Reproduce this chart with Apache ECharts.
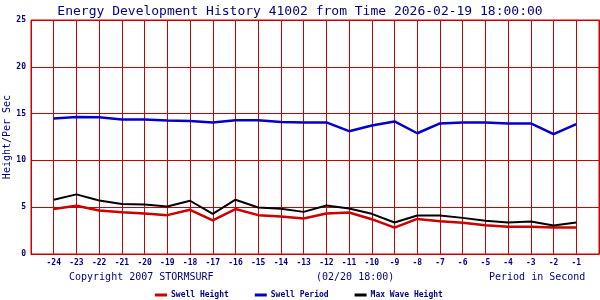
<!DOCTYPE html>
<html><head><meta charset="utf-8">
<script src="https://cdn.jsdelivr.net/npm/echarts@6/dist/echarts.min.js"></script>
<style>html,body{margin:0;padding:0;background:#fff}#c{width:600px;height:300px}</style>
</head><body><div id="c"></div>
<script>
const periods = [-24,-23,-22,-21,-20,-19,-18,-17,-16,-15,-14,-13,-12,-11,-10,-9,-8,-7,-6,-5,-4,-3,-2,-1];
const swellHeight = [4.8,5.15,4.65,4.47,4.33,4.15,4.72,3.6,4.8,4.15,4.0,3.8,4.33,4.43,3.72,2.82,3.75,3.5,3.33,3.08,2.9,2.9,2.82,2.82];
const swellPeriod = [14.48,14.63,14.6,14.38,14.38,14.27,14.2,14.06,14.3,14.3,14.09,14.06,14.06,13.12,13.73,14.16,12.9,13.95,14.06,14.06,13.95,13.95,12.8,13.87];
const maxWaveHeight = [5.8,6.37,5.72,5.33,5.3,5.08,5.69,4.29,5.8,4.97,4.83,4.5,5.19,4.87,4.29,3.36,4.11,4.11,3.86,3.54,3.36,3.47,3.04,3.36];
const yTicks = [0,5,10,15,20,25];
const titleText = 'Energy Development History 41002 from Time 2026-02-19 18:00:00';

const NAVY = '#000080', GRID = '#cc0000', MONO = 'DejaVu Sans Mono';
const pairs = a => periods.map((p,i)=>[p,a[i]]);
const chart = echarts.init(document.getElementById('c'), null, {renderer:'canvas'});
chart.setOption({
  animation:false,
  backgroundColor:'#fff',
  title:{text:titleText,left:'center',top:0,textStyle:{fontFamily:MONO,fontSize:13,fontWeight:'normal',color:NAVY}},
  grid:{left:31,right:1,top:20,bottom:46,containLabel:false,outerBoundsMode:'none',show:true,borderColor:GRID,borderWidth:1},
  xAxis:{type:'value',min:-25,max:0,interval:1,
    axisLine:{show:true,lineStyle:{color:GRID}},axisTick:{show:false},
    splitLine:{show:true,lineStyle:{color:GRID,width:1}},
    axisLabel:{margin:5,fontFamily:MONO,fontSize:8,fontWeight:'bold',color:NAVY,
      formatter:v=>(v<=-25||v>=0)?'':String(v)}},
  yAxis:{type:'value',min:yTicks[0],max:yTicks[yTicks.length-1],interval:5,
    name:'Height/Per Sec',nameLocation:'middle',nameGap:19,nameMoveOverlap:false,
    nameTextStyle:{fontFamily:MONO,fontSize:10,color:NAVY},
    axisLine:{show:true,lineStyle:{color:GRID}},axisTick:{show:false},
    splitLine:{show:true,lineStyle:{color:GRID,width:1,type:'solid'}},
    axisLabel:{margin:5,fontFamily:MONO,fontSize:8,fontWeight:'bold',color:NAVY}},
  legend:{left:155,top:291,padding:0,itemWidth:12,itemHeight:3,itemGap:26,icon:'rect',
    textStyle:{fontFamily:MONO,fontSize:8,fontWeight:'bold',color:NAVY,padding:[0,0,0,-1]},
    data:['Swell Height','Swell Period','Max Wave Height']},
  graphic:[
    {type:'text',left:69,top:272,style:{text:'Copyright 2007 STORMSURF',font:'10px "DejaVu Sans Mono"',fill:NAVY}},
    {type:'text',left:316,top:272,style:{text:'(02/20 18:00)',font:'10px "DejaVu Sans Mono"',fill:NAVY}},
    {type:'text',left:489,top:272,style:{text:'Period in Second',font:'10px "DejaVu Sans Mono"',fill:NAVY}}
  ],
  series:[
    {name:'Swell Height',type:'line',data:pairs(swellHeight),showSymbol:false,symbol:'none',color:'#cc0000',lineStyle:{color:'#cc0000',width:2.5}},
    {name:'Swell Period',type:'line',data:pairs(swellPeriod),showSymbol:false,symbol:'none',color:'#0000cc',lineStyle:{color:'#0000cc',width:2.5}},
    {name:'Max Wave Height',type:'line',data:pairs(maxWaveHeight),showSymbol:false,symbol:'none',color:'#000000',lineStyle:{color:'#000000',width:2}}
  ]
});
</script></body></html>
